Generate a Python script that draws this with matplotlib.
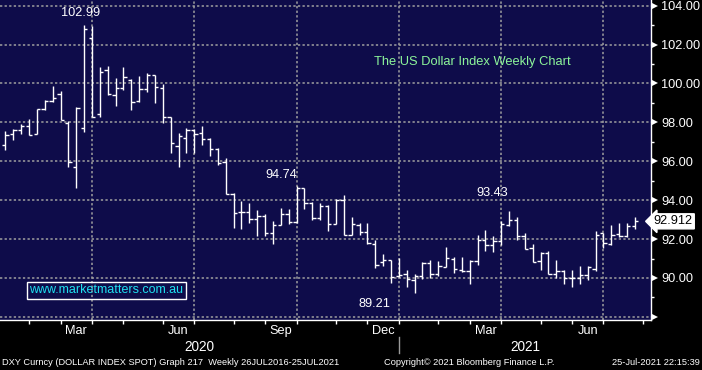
import matplotlib
matplotlib.use("Agg")
import matplotlib.pyplot as plt
import matplotlib.transforms as mtransforms
import numpy as np
import pandas as pd

# DXY weekly bars, week ending Friday, first bar 10 Jan 2020
first_week = "2020-01-10"
opens = [96.83, 97.38, 97.62, 97.81, 97.40, 98.68, 99.11, 99.45, 97.96, 95.72,
         97.70, 102.33, 98.41, 100.70, 99.40, 99.76, 100.19, 99.09, 99.74, 100.41,
         99.76, 98.30, 96.81, 97.19, 97.62, 97.45, 97.16, 96.62, 95.95, 94.34,
         93.37, 93.37, 93.04, 93.17, 92.30, 92.72, 93.30, 92.90, 94.60, 93.84,
         93.06, 93.68, 92.75, 94.02, 92.22, 92.70, 92.36, 91.76, 90.80, 90.91,
         90.08, 90.22, 89.90, 90.08, 90.77, 90.22, 90.58, 91.00, 90.40, 90.34,
         90.87, 91.97, 91.68, 91.90, 92.70, 92.99, 92.16, 91.53, 90.85, 91.28,
         90.20, 90.34, 90.02, 90.02, 90.14, 90.48, 92.31, 91.76, 92.24, 92.14,
         92.65]
highs = [97.55, 97.67, 97.93, 98.18, 98.68, 99.16, 99.88, 99.62, 98.05, 98.78,
         102.99, 102.95, 100.86, 100.91, 100.27, 100.84, 100.24, 100.39, 100.53, 100.45,
         99.98, 98.30, 97.45, 97.72, 97.65, 97.79, 97.19, 96.67, 96.15, 94.35,
         93.97, 93.88, 93.49, 93.28, 92.95, 93.62, 93.55, 94.74, 94.62, 93.90,
         93.88, 93.73, 94.07, 94.29, 93.16, 92.82, 92.82, 91.97, 91.21, 90.91,
         91.03, 90.39, 90.22, 90.82, 90.94, 90.85, 91.59, 91.08, 91.08, 90.94,
         92.19, 92.48, 92.14, 92.92, 93.43, 93.13, 92.31, 91.73, 91.33, 91.38,
         90.91, 90.43, 90.43, 90.60, 90.60, 92.39, 92.31, 92.70, 92.82, 92.82,
         93.16]
lows = [96.56, 97.10, 97.41, 97.33, 97.39, 98.61, 99.04, 98.13, 95.73, 94.65,
        97.48, 98.30, 98.30, 99.40, 98.82, 99.67, 98.65, 99.07, 99.55, 99.02,
        97.96, 96.45, 95.73, 96.45, 96.42, 96.83, 96.25, 95.81, 94.30, 92.57,
        92.51, 92.85, 92.15, 92.17, 91.73, 92.74, 92.80, 92.85, 93.55, 92.98,
        92.99, 92.44, 92.75, 92.22, 92.22, 92.19, 91.76, 90.53, 90.60, 89.74,
        90.05, 89.54, 89.21, 89.97, 90.02, 90.08, 90.56, 90.26, 90.31, 89.71,
        90.65, 91.38, 91.33, 91.68, 92.65, 91.97, 91.50, 90.82, 90.43, 90.22,
        90.02, 89.71, 89.54, 89.71, 89.88, 90.36, 91.56, 91.71, 92.10, 92.10,
        92.53]
closes = [97.33, 97.62, 97.81, 97.34, 98.68, 99.11, 99.25, 98.13, 95.96, 98.73,
          102.79, 98.30, 100.57, 99.45, 99.76, 100.33, 99.04, 99.71, 100.41, 99.81,
          98.30, 96.95, 97.28, 97.62, 97.41, 97.16, 96.62, 95.90, 94.34, 93.33,
          93.37, 93.04, 93.17, 92.30, 92.72, 93.30, 92.90, 94.60, 93.84, 93.06,
          93.68, 92.75, 94.02, 92.22, 92.75, 92.36, 91.79, 90.65, 90.94, 90.05,
          90.17, 89.95, 90.08, 90.77, 90.22, 90.60, 91.04, 90.48, 90.34, 90.87,
          91.97, 91.68, 91.88, 92.75, 92.99, 92.14, 91.50, 90.82, 91.28, 90.22,
          90.34, 90.02, 90.02, 90.14, 90.56, 92.19, 91.79, 92.19, 92.14, 92.65,
          92.912]

price_ticks = [88, 90, 92, 94, 96, 98, 100, 102, 104]
minor_price_ticks = [89, 91, 93, 95, 97, 99, 101, 103]
month_names = {3: "Mar", 6: "Jun", 9: "Sep", 12: "Dec"}

# extreme-value labels: text, x (bar index), y (price)
extremes = [("102.99", 9.6, 103.62), ("94.74", 35.1, 95.30),
            ("93.43", 61.9, 94.37), ("89.21", 46.9, 88.66)]

n = len(closes)
x = np.arange(n)
weeks = pd.date_range(first_week, periods=n + 2, freq="7D")
# month ticks sit on the last weekly bar of every month
month_ends = [i for i in range(len(weeks) - 1) if weeks[i].month != weeks[i + 1].month]
quarter_ends = [i for i in month_ends if weeks[i].month in month_names]

navy = "#0e0c4a"
fig = plt.figure(figsize=(7.02, 3.70), dpi=100, facecolor="black")
ax = fig.add_axes([0, 50 / 370, 651 / 702, 320 / 370])
ax.set_facecolor(navy)
ax.set_xlim(-0.69, 82.04)
ax.set_ylim(87.84, 104.29)

ax.vlines(x, lows, highs, color="white", lw=1.0, zorder=3)
ax.hlines(opens, x - 0.42, x, color="white", lw=1.0, zorder=3)
ax.hlines(closes, x, x + 0.42, color="white", lw=1.0, zorder=3)

for s in ["top", "left"]:
    ax.spines[s].set_visible(False)
for s in ["right", "bottom"]:
    ax.spines[s].set_color("white")
    ax.spines[s].set_linewidth(1.0)

# x axis
ax.set_xticks(quarter_ends)
ax.set_xticks(month_ends, minor=True)
ax.set_xticklabels([])
ax.tick_params(axis="x", which="both", direction="out", length=3, width=1, color="white")

# y axis on the right
ax.yaxis.tick_right()
ax.set_yticks(price_ticks)
ax.set_yticks(minor_price_ticks, minor=True)
ax.set_yticklabels([""] + ["%.2f" % v for v in price_ticks[1:]],
                   fontsize=9.2, color="white", family="Liberation Sans")
ax.tick_params(axis="y", which="major", length=0, pad=7.5)
ax.tick_params(axis="y", which="minor", direction="out", length=2.5, width=1, color="white")
ax.plot([1.0055] * len(price_ticks), price_ticks, ls="none", marker=">", ms=5, mew=0,
        color="white", transform=ax.get_yaxis_transform(), clip_on=False)

ax.grid(True, which="major", color="#a0a0a0", ls=(0, (1.5, 1.5)), lw=1.1, zorder=1)

# month and year labels
trans = mtransforms.blended_transform_factory(ax.transData, ax.transAxes)
for i in quarter_ends:
    prev = max(m for m in month_ends if m < i)
    ax.text((prev + i) / 2, -0.033, month_names[weeks[i].month], transform=trans,
            ha="center", va="center", color="white", fontsize=9.2, family="Liberation Sans")
dec_end = [i for i in quarter_ends if weeks[i].month == 12][0]
ax.text((-0.69 + dec_end) / 2, -0.083, "2020", transform=trans, ha="center", va="center",
        color="white", fontsize=9.8, family="Liberation Sans")
ax.text((dec_end + 82.04) / 2, -0.083, "2021", transform=trans, ha="center", va="center",
        color="white", fontsize=9.8, family="Liberation Sans")
ax.plot([dec_end, dec_end], [-0.053, -0.103], color="#9a9a9a", lw=1, transform=trans,
        clip_on=False)

for txt, tx, ty in extremes:
    ax.text(tx, ty, txt, ha="center", va="center", color="white", fontsize=9.2,
            family="Liberation Sans", zorder=4)

# last price flag
ax.text(1.004, closes[-1], "%.3f" % closes[-1], transform=ax.get_yaxis_transform(),
        ha="left", va="center", color="black", fontsize=9.2, family="Liberation Sans",
        bbox=dict(boxstyle="larrow,pad=0.12", fc="white", ec="white"), clip_on=False)

fig.text(374 / 702, 1 - 62 / 370, "The US Dollar Index Weekly Chart", ha="left", va="center",
         color="#8cf59a", fontsize=9.3, family="Liberation Sans")
fig.text(106 / 702, 1 - 290 / 370, "www.marketmatters.com.au", ha="center", va="center",
         color="#1ee0f0", fontsize=9, family="Liberation Sans",
         bbox=dict(boxstyle="square,pad=0.2", fc="none", ec="white", lw=1))

foot = dict(va="center", color="white", fontsize=6.7, family="Liberation Sans")
fig.text(2 / 702, 1 - 362.5 / 370,
         "DXY Curncy (DOLLAR INDEX SPOT) Graph 217  Weekly 26JUL2016-25JUL2021",
         ha="left", **foot)
fig.text(384 / 702, 1 - 362.5 / 370, "Copyright\u00a9 2021 Bloomberg Finance L.P.",
         ha="left", **foot)
fig.text(700 / 702, 1 - 362.5 / 370, "25-Jul-2021 22:15:39", ha="right", **foot)

fig.savefig("out.png", dpi=100, facecolor="black")
